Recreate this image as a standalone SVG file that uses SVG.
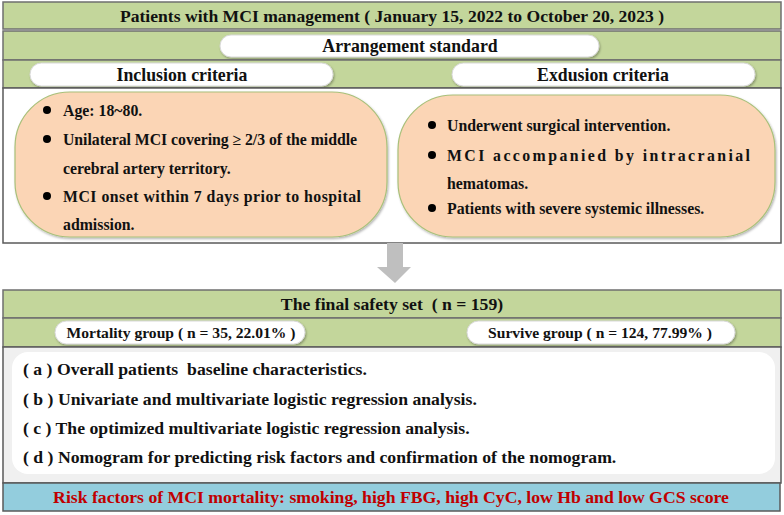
<svg xmlns="http://www.w3.org/2000/svg" width="784" height="515" viewBox="0 0 784 515">
<style>
.bar{fill:#c3d69b;stroke:#6f6f6f;stroke-width:1.5}
.box{fill:#ffffff;stroke:#5a5a5a;stroke-width:1.5}
.pill{fill:#ffffff;stroke:#d8d8d8;stroke-width:1;filter:url(#sh)}
.peach{fill:#fbd5b5;stroke:#a9c07a;stroke-width:1.2;filter:url(#sh)}
text{font-family:"Liberation Serif","Times New Roman",serif;font-weight:bold;fill:#111}
.t17{font-size:17.6px}
.th{font-size:17.8px}
.t16{font-size:17.7px}
.t15{font-size:15.8px}
.t14{font-size:15.6px}
.c{text-anchor:middle}
.red{fill:#c00000;font-size:17.7px}
</style>
<defs>
<filter id="sh" x="-5%" y="-10%" width="110%" height="125%">
<feDropShadow dx="1" dy="1.5" stdDeviation="1" flood-color="#000" flood-opacity="0.3"/>
</filter>
</defs>
<rect width="784" height="515" fill="#ffffff"/>

<g id="title">
<rect class="bar" x="3" y="2" width="778" height="27"/>
<text class="t17 c" x="392" y="22">Patients with MCI management ( January 15, 2022 to October 20, 2023 )</text>
</g>

<g id="arrangement">
<rect class="bar" x="3" y="31" width="778" height="29"/>
<rect class="pill" x="220" y="35" width="379" height="22" rx="11"/>
<text class="th c" x="410" y="52">Arrangement standard</text>
</g>

<g id="criteria-header">
<rect class="bar" x="3" y="60" width="778" height="28"/>
<rect class="pill" x="30" y="63" width="303" height="23" rx="11.5"/>
<text class="th c" x="182" y="81">Inclusion criteria</text>
<rect class="pill" x="452" y="63" width="303" height="23" rx="11.5"/>
<text class="th c" x="603" y="81">Exdusion criteria</text>
</g>

<g id="criteria">
<rect class="box" x="3" y="88" width="778" height="155"/>
<g id="inclusion">
<rect class="peach" x="15" y="92" width="372" height="145" rx="55"/>
<circle cx="47" cy="110" r="4"/>
<text class="t15" x="63" y="115.5">Age: 18~80.</text>
<circle cx="47" cy="139" r="4"/>
<text class="t15" x="63" y="144.5" textLength="294" lengthAdjust="spacing">Unilateral MCI covering ≥ 2/3 of the middle</text>
<text class="t15" x="63" y="173.5">cerebral artery territory.</text>
<circle cx="47" cy="196" r="4"/>
<text class="t15" x="63" y="201.5" textLength="298" lengthAdjust="spacing">MCI onset within 7 days prior to hospital</text>
<text class="t15" x="63" y="229.5">admission.</text>
</g>
<g id="exclusion">
<rect class="peach" x="398" y="95" width="377" height="142" rx="55"/>
<circle cx="432" cy="125" r="4"/>
<text class="t15" x="447" y="130.5">Underwent surgical intervention.</text>
<circle cx="432" cy="155" r="4"/>
<text class="t15" x="447" y="160.5" textLength="303" lengthAdjust="spacing">MCI accompanied by intracranial</text>
<text class="t15" x="447" y="188.5">hematomas.</text>
<circle cx="432" cy="208" r="4"/>
<text class="t15" x="447" y="213.5">Patients with severe systemic illnesses.</text>
</g>
</g>

<g id="connectors">
<polygon points="387,243 403,243 403,267 411,267 395,283 377,267 387,267" fill="#bfbfbf"/>
</g>

<g id="final-set">
<rect class="bar" x="3" y="290" width="778" height="28"/>
<text class="t16 c" x="392" y="310" xml:space="preserve">The final safety set  ( n = 159)</text>
</g>

<g id="groups">
<rect class="bar" x="3" y="318" width="778" height="29"/>
<rect class="pill" x="55" y="321" width="250" height="23" rx="11.5"/>
<text class="t14 c" x="181" y="338">Mortality group ( n = 35, 22.01% )</text>
<rect class="pill" x="467" y="321" width="268" height="23" rx="11.5"/>
<text class="t14 c" x="600" y="338">Survive group ( n = 124, 77.99% )</text>
</g>

<g id="analysis">
<rect x="3" y="347" width="778" height="136" fill="#f0f0f0" stroke="#5a5a5a" stroke-width="1.5"/>
<rect x="12" y="352" width="763" height="122" rx="16" fill="#ffffff"/>
<text class="t16" x="23" y="375" xml:space="preserve">( a ) Overall patients  baseline characteristics.</text>
<text class="t16" x="23" y="405">( b ) Univariate and multivariate logistic regression analysis.</text>
<text class="t16" x="23" y="434">( c ) The optimized multivariate logistic regression analysis.</text>
<text class="t16" x="23" y="463">( d ) Nomogram for predicting risk factors and confirmation of the nomogram.</text>
</g>

<g id="conclusion">
<rect x="3" y="483" width="777" height="28" fill="#93cddd" stroke="#5a5a5a" stroke-width="1.5"/>
<text class="red c" x="391" y="502.5">Risk factors of MCI mortality: smoking, high FBG, high CyC, low Hb and low GCS score</text>
</g>
</svg>
